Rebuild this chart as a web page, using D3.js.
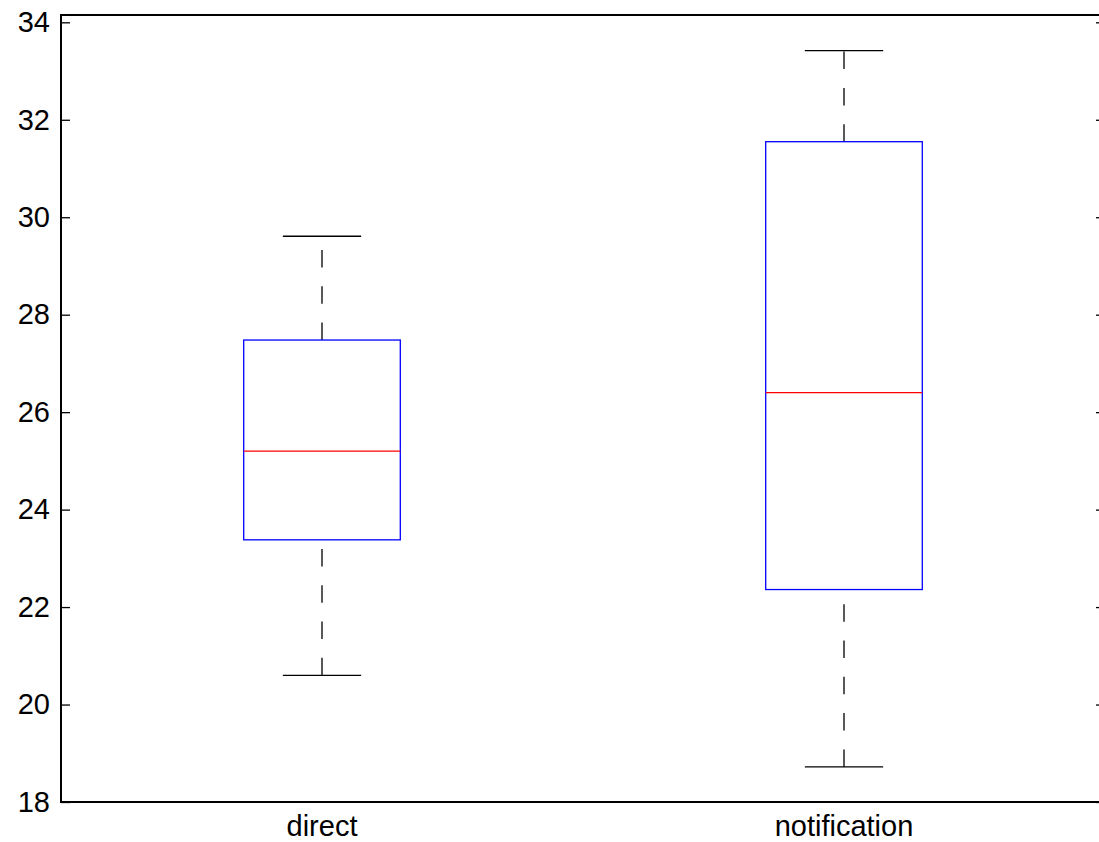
<!DOCTYPE html>
<html>
<head>
<meta charset="utf-8">
<script src="https://cdn.jsdelivr.net/npm/d3@7"></script>
<style>
  body { margin: 0; background: #fff; }
  svg { display: block; }
</style>
</head>
<body>
<div id="chart"></div>
<script>
// box plot statistics
const categories = ['direct', 'notification'];
const lowerWhisker = [20.6, 18.72];
const q1 = [23.38, 22.36];
const median = [25.2, 26.4];
const q3 = [27.48, 31.55];
const upperWhisker = [29.61, 33.42];
const yTicks = [18, 20, 22, 24, 26, 28, 30, 32, 34];

const width = 1099, height = 842;
const plotLeft = 61, plotRight = 1105, plotTop = 15, plotBottom = 802;

const svg = d3.select('#chart').append('svg')
  .attr('width', width)
  .attr('height', height);

const x = d3.scaleLinear().domain([0.5, categories.length + 0.5]).range([plotLeft, plotRight]);
const y = d3.scaleLinear().domain([18, 34.15]).range([plotBottom, plotTop]);

const font = '"Liberation Sans", Arial, Helvetica, sans-serif';

// left axis with labels
const yAxis = svg.append('g')
  .attr('transform', `translate(${plotLeft},0)`)
  .call(d3.axisLeft(y).tickValues(yTicks).tickSizeInner(-9).tickSizeOuter(0).tickPadding(11));
yAxis.select('.domain').remove();
yAxis.selectAll('.tick line').attr('stroke', '#000').attr('stroke-width', 1.3);
yAxis.selectAll('.tick text')
  .style('font-family', font)
  .style('font-size', '29px')
  .attr('fill', '#000');

// right axis, ticks only
const yAxisR = svg.append('g')
  .attr('transform', `translate(${plotRight},0)`)
  .call(d3.axisRight(y).tickValues(yTicks).tickSizeInner(-9).tickSizeOuter(0).tickFormat(''));
yAxisR.select('.domain').remove();
yAxisR.selectAll('.tick line').attr('stroke', '#000').attr('stroke-width', 1.3);

// category labels
svg.append('g')
  .selectAll('text')
  .data(categories)
  .join('text')
  .attr('x', (d, i) => x(i + 1))
  .attr('y', 836)
  .attr('text-anchor', 'middle')
  .style('font-family', font)
  .style('font-size', '29px')
  .attr('fill', '#000')
  .text(d => d);

// boxes
const boxHalf = 0.15, capHalf = 0.075;
const g = svg.append('g');
categories.forEach((c, i) => {
  const cx = x(i + 1);
  // whiskers (dashed), drawn upward
  g.append('line')
    .attr('x1', cx).attr('x2', cx)
    .attr('y1', y(lowerWhisker[i])).attr('y2', y(q1[i]))
    .attr('stroke', '#222').attr('stroke-width', 1.5)
    .attr('stroke-dasharray', '17.5,18.8');
  g.append('line')
    .attr('x1', cx).attr('x2', cx)
    .attr('y1', y(q3[i])).attr('y2', y(upperWhisker[i]))
    .attr('stroke', '#222').attr('stroke-width', 1.5)
    .attr('stroke-dasharray', '17.5,18.8');
  // caps
  [lowerWhisker[i], upperWhisker[i]].forEach(v => {
    g.append('line')
      .attr('x1', x(i + 1 - capHalf)).attr('x2', x(i + 1 + capHalf))
      .attr('y1', y(v)).attr('y2', y(v))
      .attr('stroke', '#000').attr('stroke-width', 1.3);
  });
  // box
  g.append('rect')
    .attr('x', x(i + 1 - boxHalf))
    .attr('y', y(q3[i]))
    .attr('width', x(i + 1 + boxHalf) - x(i + 1 - boxHalf))
    .attr('height', y(q1[i]) - y(q3[i]))
    .attr('fill', 'none')
    .attr('stroke', '#0000ff')
    .attr('stroke-width', 1.3);
  // median
  g.append('line')
    .attr('x1', x(i + 1 - boxHalf)).attr('x2', x(i + 1 + boxHalf))
    .attr('y1', y(median[i])).attr('y2', y(median[i]))
    .attr('stroke', '#ff0000').attr('stroke-width', 1.3);
});

// frame
svg.append('rect')
  .attr('x', plotLeft).attr('y', plotTop)
  .attr('width', plotRight - plotLeft).attr('height', plotBottom - plotTop)
  .attr('fill', 'none')
  .attr('stroke', '#000')
  .attr('stroke-width', 2);
</script>
</body>
</html>
